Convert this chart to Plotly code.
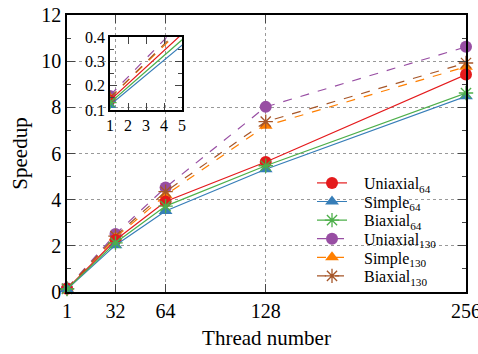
import plotly.graph_objects as go

threads = [1, 32, 64, 128, 256]
uniaxial64 = [0.14, 2.25, 3.92, 5.63, 9.42]
simple64 = [0.12, 2.03, 3.51, 5.32, 8.48]
biaxial64 = [0.13, 2.13, 3.72, 5.47, 8.62]
uniaxial130 = [0.16, 2.51, 4.53, 8.02, 10.62]
simple130 = [0.15, 2.36, 4.20, 7.20, 9.76]
biaxial130 = [0.15, 2.42, 4.35, 7.38, 9.92]

names = ["Uniaxial<sub>64</sub>", "Simple<sub>64</sub>", "Biaxial<sub>64</sub>",
         "Uniaxial<sub>130</sub>", "Simple<sub>130</sub>", "Biaxial<sub>130</sub>"]
series = [uniaxial64, simple64, biaxial64, uniaxial130, simple130, biaxial130]
colors = ["#e41a1c", "#377eb8", "#4daf4a", "#984ea3", "#ff7f00", "#a65628"]
symbols = ["circle", "triangle-up", "asterisk-open", "circle", "triangle-up", "asterisk-open"]
dashes = ["solid", "solid", "solid", "dash", "dash", "dash"]

x_ticks = [1, 32, 64, 128, 256]
y_ticks = [0, 2, 4, 6, 8, 10, 12]
inset_x_ticks = [1, 2, 3, 4, 5]
inset_y_ticks = [0.1, 0.2, 0.3, 0.4]

W, H = 478, 354
L, R, T, B = 67, 12, 15, 62

fig = go.Figure()

def marker_for(sym, col, size):
    if sym.startswith("asterisk"):
        return dict(symbol=sym, size=size, color=col, line=dict(color=col, width=1.3))
    return dict(symbol=sym, size=size, color=col, line=dict(width=0))

legend_ids = ["legend", "legend2", "legend3", "legend4", "legend5", "legend6"]
pad = "\u00a0\u00a0\u00a0"

# draw 130 series first so 64 series sit on top at overlaps
draw_order = [3, 4, 5, 0, 1, 2]
for i in draw_order:
    fig.add_trace(go.Scatter(
        x=threads, y=series[i], name=pad + names[i], mode="lines+markers",
        line=dict(color=colors[i], width=1.2, dash=dashes[i]),
        marker=marker_for(symbols[i], colors[i], 12),
        cliponaxis=False, xaxis="x", yaxis="y", legend=legend_ids[i]))

for i in draw_order:
    fig.add_trace(go.Scatter(
        x=threads, y=series[i], name=names[i], mode="lines+markers",
        line=dict(color=colors[i], width=1.2, dash=dashes[i]),
        marker=marker_for(symbols[i], colors[i], 11),
        showlegend=False, xaxis="x2", yaxis="y2"))

pw = W - L - R
ph = H - T - B
ix0, ix1, iy0, iy1 = 110, 182, 37, 110
def px2x(px):
    return (px - L) / pw
def py2y(py):
    return 1 - (py - T) / ph

font = "Liberation Serif"

row_y = [183, 201.6, 220.2, 238.8, 257.4, 276]
legends = {}
for k, lid in enumerate(legend_ids):
    legends[lid] = dict(x=px2x(312), y=py2y(row_y[k]), xanchor="left", yanchor="middle",
                        bgcolor="rgba(0,0,0,0)", font=dict(size=16, family=font),
                        itemwidth=30, borderwidth=0)

fig.update_layout(
    width=W, height=H,
    margin=dict(l=L, r=R, t=T, b=B, autoexpand=False),
    paper_bgcolor="white", plot_bgcolor="rgba(0,0,0,0)",
    font=dict(family=font, size=20, color="black"),
    showlegend=True,
    xaxis=dict(range=[1, 256], tickvals=x_ticks, ticks="inside", ticklen=8,
               mirror="ticks", showline=True, linecolor="black", linewidth=1.5,
               showgrid=True, gridcolor="#999", griddash="dot", gridwidth=1,
               zeroline=False, automargin=False, ticklabeloverflow="allow",
               title=dict(text="Thread number", standoff=10, font=dict(size=21)),
               tickfont=dict(size=20), domain=[0, 1]),
    yaxis=dict(range=[0, 12], tickvals=y_ticks, ticks="inside", ticklen=8,
               mirror="ticks", showline=True, linecolor="black", linewidth=1.5,
               showgrid=True, gridcolor="#999", griddash="dot", gridwidth=1,
               zeroline=False, automargin=False, ticklabeloverflow="allow",
               title=dict(text="Speedup", standoff=8, font=dict(size=21)),
               tickfont=dict(size=20),
               minor=dict(dtick=1, ticks="inside", ticklen=4, showgrid=False)),
    xaxis2=dict(range=[1, 5], tickvals=inset_x_ticks, ticks="inside", ticklen=7,
                mirror="ticks", showline=True, linecolor="black", linewidth=1.5,
                showgrid=False, zeroline=False, anchor="y2", automargin=False,
                ticklabeloverflow="allow",
                domain=[px2x(ix0), px2x(ix1)], tickfont=dict(size=16)),
    yaxis2=dict(range=[0.1, 0.4], tickvals=inset_y_ticks, ticks="inside", ticklen=7,
                mirror="ticks", showline=True, linecolor="black", linewidth=1.5,
                showgrid=False, zeroline=False, anchor="x2", automargin=False,
                ticklabeloverflow="allow",
                domain=[py2y(iy1), py2y(iy0)], tickfont=dict(size=16),
                minor=dict(dtick=0.05, ticks="inside", ticklen=4, showgrid=False)),
    shapes=[dict(type="rect", xref="paper", yref="paper",
                 x0=px2x(ix0), x1=px2x(ix1), y0=py2y(iy1), y1=py2y(iy0),
                 fillcolor="white", line=dict(width=0), layer="between")],
    **legends,
)

fig.write_html("out.html", config={"displayModeBar": False},
               post_script="document.body.style.margin='0';")
